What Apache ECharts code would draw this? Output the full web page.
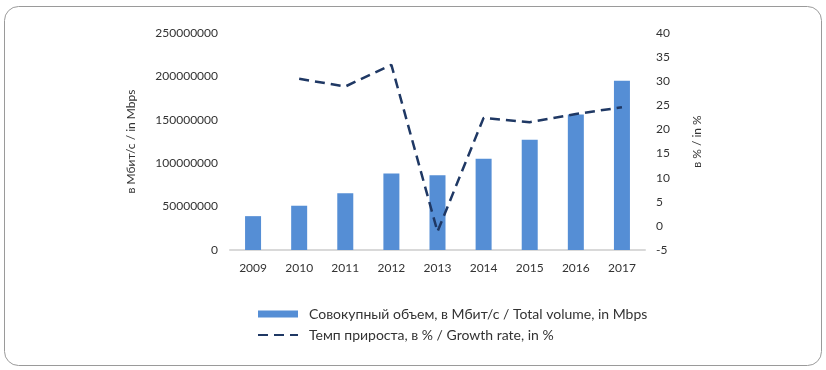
<!DOCTYPE html>
<html><head><meta charset="utf-8">
<script src="https://cdn.jsdelivr.net/npm/echarts@6/dist/echarts.min.js"></script>
<style>html,body{margin:0;padding:0;background:#fff}#c{width:826px;height:370px}</style>
</head><body><div id="c"></div>
<script>
const categories = ['2009','2010','2011','2012','2013','2014','2015','2016','2017'];
const totalVolume = [39000000, 51000000, 65500000, 88000000, 86000000, 105000000, 127000000, 156000000, 195000000];
const growthRate = [null, 30.5, 28.9, 33.4, -1.2, 22.4, 21.5, 23.2, 24.6];
const barName = 'Совокупный объем, в Мбит/с / Total volume, in Mbps';
const lineName = 'Темп прироста, в % / Growth rate, in %';
const FONT = 'Lato, "Noto Sans", sans-serif';
const chart = echarts.init(document.getElementById('c'));
chart.setOption({
  animation: false,
  textStyle: {fontFamily: FONT},
  graphic: [{type:'rect', shape:{x:4.5,y:6.5,width:817,height:359,r:14}, style:{fill:'none', stroke:'#9a9a9a', lineWidth:1}, silent:true}],
  grid: {left:230, right:181, top:33, bottom:120},
  legend: {
    orient:'vertical', left:252, top:302, itemGap:7, itemWidth:40, itemHeight:7,
    textStyle:{fontSize:14, color:'#333', fontFamily:FONT, padding:[0,0,0,6]},
    data:[{name:barName, icon:'rect'}, {name:lineName, itemStyle:{opacity:0}}]
  },
  xAxis: {
    type:'category', data:categories,
    axisLine:{lineStyle:{color:'#d9d9d9', width:2}},
    axisTick:{show:false},
    axisLabel:{color:'#333', fontSize:12, margin:12, fontFamily:FONT}
  },
  yAxis: [{
    type:'value', min:0, max:250000000, interval:50000000,
    name:'в Мбит/с / in Mbps', nameLocation:'middle', nameGap:93, nameRotate:90,
    nameTextStyle:{color:'#333', fontSize:12, fontFamily:FONT},
    axisLine:{show:false}, axisTick:{show:false}, splitLine:{show:false},
    axisLabel:{color:'#333', fontSize:12, margin:12, fontFamily:FONT, formatter: v => String(v)}
  },{
    type:'value', min:-5, max:40, interval:5, position:'right',
    name:'в % / in %', nameLocation:'middle', nameGap:46, nameRotate:90,
    nameTextStyle:{color:'#333', fontSize:12, fontFamily:FONT},
    axisLine:{show:false}, axisTick:{show:false}, splitLine:{show:false},
    axisLabel:{color:'#333', fontSize:12, margin:11, fontFamily:FONT}
  }],
  series: [{
    name:barName, type:'bar', data:totalVolume, barWidth:16,
    itemStyle:{color:'#558ed5'}, yAxisIndex:0
  },{
    name:lineName, type:'line', data:growthRate, yAxisIndex:1,
    symbol:'none', connectNulls:false,
    lineStyle:{color:'#1f3864', width:2.5, type:[10,6]},
    itemStyle:{color:'#1f3864'}
  }]
});
</script></body></html>
